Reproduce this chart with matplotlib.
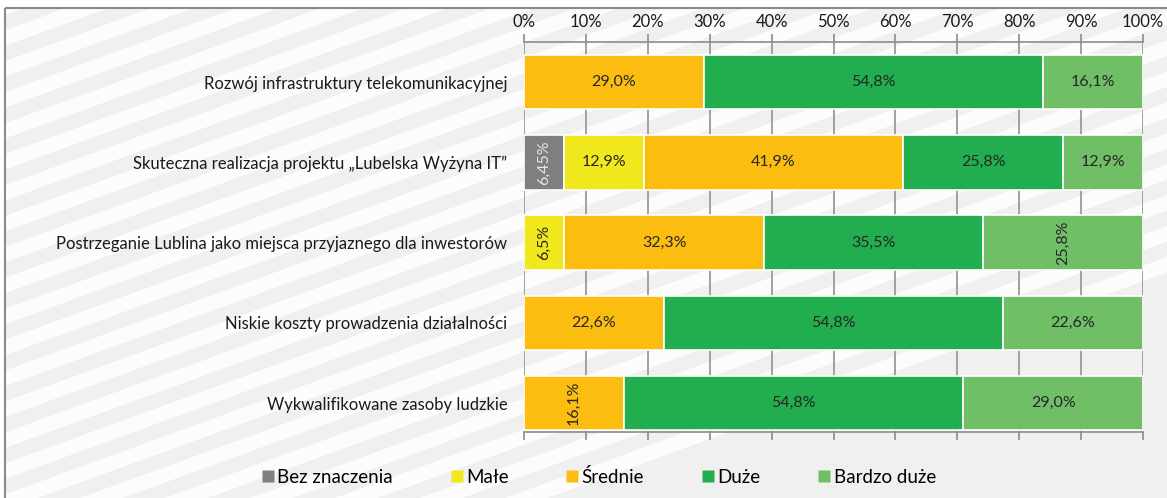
import numpy as np
import matplotlib
matplotlib.use("Agg")
import matplotlib.pyplot as plt
from matplotlib.patches import Rectangle, Polygon
from matplotlib.lines import Line2D

plt.rcParams['font.family'] = ['Lato', 'DejaVu Sans']

# --- dane ---
categories = [
    "Rozwój infrastruktury telekomunikacyjnej",
    "Skuteczna realizacja projektu \u201eLubelska Wyżyna IT\u201d",
    "Postrzeganie Lublina jako miejsca przyjaznego dla inwestorów",
    "Niskie koszty prowadzenia działalności",
    "Wykwalifikowane zasoby ludzkie",
]
series_names = ["Bez znaczenia", "Małe", "Średnie", "Duże", "Bardzo duże"]
bez_znaczenia = [0, 6.45, 0, 0, 0]
male = [0, 12.9, 6.5, 0, 0]
srednie = [29.0, 41.9, 32.3, 22.6, 16.1]
duze = [54.8, 25.8, 35.5, 54.8, 54.8]
bardzo_duze = [16.1, 12.9, 25.8, 22.6, 29.0]
ticks = list(range(0, 101, 10))

# etykiety obrócone o 90 stopni (wiersz, seria)
rotated = {(1, 0), (2, 1), (2, 4), (4, 2)}

colors = ["#7f7f7f", "#f0e81c", "#fcbd11", "#22ad4f", "#70bf66"]
label_colors = ["#e6e6e6", "#262626", "#262626", "#262626", "#262626"]

W, H = 1167, 498
fig = plt.figure(figsize=(W / 100, H / 100), dpi=100)

# --- tło w paski ---
bg = fig.add_axes([0, 0, 1, 1], zorder=-10)
bg.set_xlim(0, W)
bg.set_ylim(H, 0)
bg.axis("off")
frame = Rectangle((5, 8), W + 10, H, facecolor="#f0f0f0", edgecolor="none")
bg.add_patch(frame)
ang = np.deg2rad(20)
period = 85
step = period * np.tan(ang)
for c in np.arange(-W * np.tan(ang) - 100, H + 200, step):
    pts = [(0, c), (W + 10, c - (W + 10) * np.tan(ang)),
           (W + 10, c - (W + 10) * np.tan(ang) + step * 0.5), (0, c + step * 0.5)]
    p = Polygon(pts, closed=True, facecolor="white", edgecolor="none", alpha=0.85)
    bg.add_patch(p)
    p.set_clip_path(frame)
bg.add_patch(Rectangle((5, 8), W + 10, H, facecolor="none", edgecolor="#8a8a8a", lw=1.5))

# --- wykres ---
ax = fig.add_axes([524 / W, 1 - 432 / H, (1143 - 524) / W, (432 - 42) / H])
ax.patch.set_alpha(0)

data = np.array([bez_znaczenia, male, srednie, duze, bardzo_duze])
totals = data.sum(axis=0)
shares = data / totals * 100
y = np.arange(len(categories))
left = np.zeros(len(categories))
for s in range(len(series_names)):
    ax.barh(y, shares[s], left=left, height=0.68, color=colors[s],
            edgecolor="white", linewidth=1.2, zorder=3, label=series_names[s])
    for r in range(len(categories)):
        v = data[s][r]
        if v > 0:
            txt = (f"{v:.1f}" if abs(v * 10 - round(v * 10)) < 1e-9 else f"{v:.2f}").replace(".", ",") + "%"
            ax.text(left[r] + shares[s][r] / 2, y[r], txt,
                    ha="center", va="center", fontsize=11.5, color=label_colors[s],
                    rotation=90 if (r, s) in rotated else 0, zorder=4)
    left += shares[s]

ax.set_xlim(0, 100)
ax.set_ylim(4.36, -0.5)
ax.set_yticks(y)
ax.set_yticklabels(categories, fontsize=12, color="#1a1a1a")
ax.tick_params(axis="y", length=0, pad=12)
ax.set_xticks(ticks)
ax.set_xticklabels([f"{t}%" for t in ticks], fontsize=12, color="#1a1a1a")
ax.tick_params(axis="x", top=True, bottom=True, labeltop=True, labelbottom=False,
               direction="out", length=6, color="#8c8c8c", width=1.2, pad=3)
ax.xaxis.grid(True, color="#9a9a9a", linewidth=1.3, zorder=0)
ax.set_axisbelow(True)
for side in ["left", "right"]:
    ax.spines[side].set_visible(False)
for side in ["top", "bottom"]:
    ax.spines[side].set_color("#8c8c8c")
    ax.spines[side].set_linewidth(1.2)

handles = [Line2D([], [], marker="s", linestyle="none", markersize=8,
                  markerfacecolor=colors[i], markeredgecolor="none") for i in range(len(series_names))]
fig.legend(handles, series_names, loc="center", bbox_to_anchor=(598 / W, 1 - 477 / H),
           ncol=5, frameon=False, fontsize=13.5, handletextpad=0.1, columnspacing=3.0,
           handlelength=0.8)

fig.savefig("out.png", dpi=100)
